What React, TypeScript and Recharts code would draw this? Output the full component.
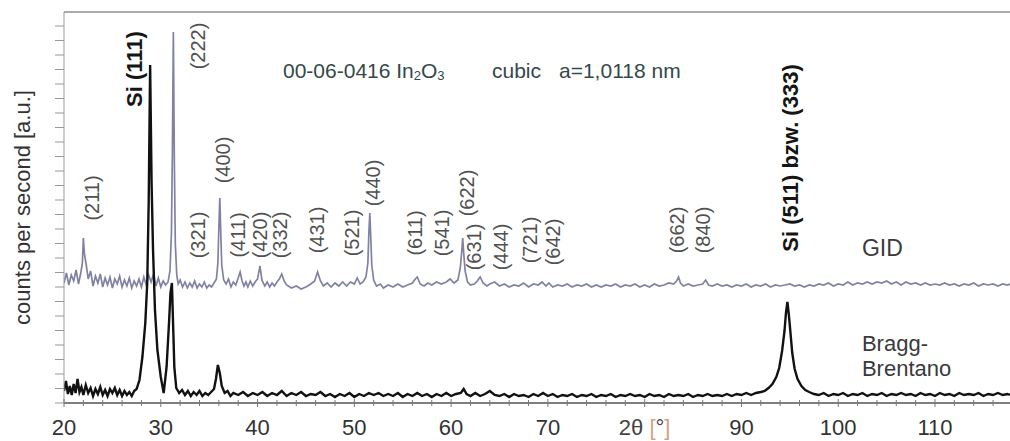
import { LineChart, Line, XAxis, YAxis, ReferenceDot, ReferenceLine } from 'recharts';

// GID scan (grazing incidence), offset upward: [2theta, counts]
const gidTrace: [number, number][] = [
  [20.0, 120], [20.25, 130], [20.5, 118], [20.75, 128], [21.0, 122], [21.25, 133], [21.5, 119], [21.75, 131],
  [21.9, 140], [22.0, 165], [22.1, 150], [22.3, 138], [22.5, 124], [22.75, 132], [23.0, 117], [23.25, 127],
  [23.5, 120], [23.75, 129], [24.0, 116], [24.25, 125], [24.5, 118], [24.75, 126], [25.0, 115], [25.25, 124],
  [25.5, 119], [25.75, 127], [26.0, 116], [26.25, 123], [26.5, 117], [26.75, 125], [27.0, 115], [27.25, 122],
  [27.5, 117], [27.75, 124], [28.0, 116], [28.25, 126], [28.5, 118], [28.75, 128], [29.0, 121], [29.25, 129],
  [29.5, 117], [29.75, 125], [30.0, 116], [30.25, 122], [30.5, 118], [30.75, 121], [30.95, 132], [31.1, 170],
  [31.2, 250], [31.3, 371], [31.4, 245], [31.5, 160], [31.65, 128], [31.8, 119], [32.0, 123], [32.25, 116],
  [32.5, 121], [32.75, 115], [33.0, 120], [33.25, 116], [33.5, 122], [33.75, 115], [34.0, 119], [34.25, 116],
  [34.5, 121], [34.75, 115], [35.0, 118], [35.25, 116], [35.5, 120], [35.75, 124], [35.9, 140], [36.0, 175],
  [36.1, 205], [36.2, 170], [36.3, 138], [36.5, 123], [36.75, 119], [37.0, 124], [37.25, 116], [37.5, 121],
  [37.75, 118], [38.0, 125], [38.2, 131], [38.4, 122], [38.6, 117], [38.8, 121], [39.0, 116], [39.25, 122],
  [39.5, 117], [39.75, 121], [40.0, 124], [40.25, 137], [40.45, 123], [40.75, 117], [41.0, 121], [41.25, 116],
  [41.5, 120], [41.75, 117], [42.0, 121], [42.25, 124], [42.5, 129], [42.75, 122], [43.0, 118], [43.5, 115],
  [44.0, 117], [44.5, 114], [45.0, 116], [45.5, 119], [45.9, 122], [46.2, 131], [46.5, 122], [46.8, 117],
  [47.2, 120], [47.6, 116], [48.0, 120], [48.4, 117], [48.8, 121], [49.2, 117], [49.6, 121], [50.0, 119],
  [50.3, 125], [50.6, 119], [50.9, 121], [51.2, 126], [51.4, 140], [51.5, 170], [51.6, 190], [51.7, 165],
  [51.8, 138], [52.0, 123], [52.3, 117], [52.7, 119], [53.0, 115], [53.5, 118], [54.0, 116], [54.5, 119],
  [55.0, 116], [55.5, 118], [56.0, 120], [56.3, 124], [56.5, 126], [56.8, 119], [57.2, 117], [57.6, 120],
  [58.0, 118], [58.5, 121], [59.0, 119], [59.5, 121], [59.9, 124], [60.3, 120], [60.7, 123], [60.95, 135],
  [61.1, 152], [61.2, 165], [61.3, 150], [61.45, 132], [61.7, 121], [62.0, 118], [62.4, 119], [62.7, 122],
  [63.0, 126], [63.3, 120], [63.7, 117], [64.0, 119], [64.5, 121], [65.0, 117], [65.5, 119], [66.0, 116],
  [66.5, 118], [67.0, 117], [67.5, 120], [68.0, 116], [68.5, 119], [69.0, 118], [69.4, 121], [69.8, 117],
  [70.1, 120], [70.5, 116], [71.0, 118], [71.5, 117], [72.0, 119], [72.5, 116], [73.0, 118], [73.5, 117],
  [74.0, 119], [74.5, 116], [75.0, 118], [75.5, 116], [76.0, 118], [76.5, 117], [77.0, 119], [77.5, 116],
  [78.0, 118], [78.5, 117], [79.0, 119], [79.5, 116], [80.0, 118], [80.5, 116], [81.0, 119], [81.5, 117],
  [82.0, 118], [82.5, 120], [83.0, 119], [83.3, 122], [83.5, 126], [83.7, 120], [84.0, 117], [84.5, 119],
  [85.0, 117], [85.5, 118], [86.0, 119], [86.3, 123], [86.6, 118], [87.0, 117], [87.5, 119], [88.0, 117],
  [88.5, 118], [89.0, 116], [89.5, 118], [90.0, 117], [90.5, 119], [91.0, 116], [91.5, 118], [92.0, 117],
  [92.5, 119], [93.0, 116], [93.5, 118], [94.0, 117], [94.5, 118], [95.0, 119], [95.5, 117], [96.0, 118],
  [96.5, 116], [97.0, 118], [97.5, 117], [98.0, 119], [98.5, 118], [99.0, 120], [99.5, 117], [100.0, 119],
  [100.5, 118], [101.0, 121], [101.5, 118], [102.0, 120], [102.5, 119], [103.0, 121], [103.5, 119], [104.0, 121],
  [104.5, 120], [105.0, 122], [105.5, 119], [106.0, 121], [106.5, 118], [107.0, 121], [107.5, 119], [108.0, 120],
  [108.5, 118], [109.0, 120], [109.5, 118], [110.0, 119], [110.5, 118], [111.0, 120], [111.5, 118], [112.0, 119],
  [112.5, 117], [113.0, 119], [113.5, 118], [114.0, 120], [114.5, 117], [115.0, 119], [115.5, 118], [116.0, 119],
  [116.5, 117], [117.0, 119], [117.5, 118], [117.75, 119],
];

// Bragg-Brentano scan: [2theta, counts]
const braggTrace: [number, number][] = [
  [20.0, 12], [20.2, 22], [20.4, 9], [20.6, 17], [20.8, 8], [21.0, 19], [21.2, 10], [21.4, 24], [21.6, 11],
  [21.8, 16], [22.0, 8], [22.25, 18], [22.5, 10], [22.75, 15], [23.0, 7], [23.25, 14], [23.5, 9], [23.75, 16],
  [24.0, 8], [24.25, 13], [24.5, 7], [24.75, 14], [25.0, 10], [25.25, 15], [25.5, 8], [25.75, 13], [26.0, 7],
  [26.25, 12], [26.5, 8], [26.75, 11], [27.0, 7], [27.25, 12], [27.5, 14], [27.8, 23], [28.1, 46], [28.4, 80],
  [28.6, 120], [28.75, 200], [28.9, 338], [29.05, 220], [29.2, 153], [29.4, 93], [29.65, 53], [30.0, 26],
  [30.3, 10], [30.6, 36], [30.85, 80], [31.0, 110], [31.15, 120], [31.3, 70], [31.4, 36], [31.6, 15],
  [31.9, 10], [32.2, 13], [32.5, 8], [32.8, 12], [33.1, 7], [33.4, 11], [33.7, 8], [34.0, 12], [34.3, 7],
  [34.6, 10], [34.9, 8], [35.2, 11], [35.5, 14], [35.7, 24], [35.9, 38], [36.1, 30], [36.3, 17], [36.6, 10],
  [36.9, 12], [37.2, 7], [37.5, 10], [38.0, 8], [38.5, 11], [39.0, 7], [39.5, 10], [40.0, 8], [40.5, 11],
  [41.0, 7], [41.5, 10], [42.0, 8], [42.5, 12], [43.0, 7], [43.5, 10], [44.0, 8], [44.5, 11], [45.0, 7],
  [45.5, 9], [46.0, 8], [46.5, 11], [47.0, 7], [47.5, 9], [48.0, 6], [48.5, 9], [49.0, 7], [49.5, 10],
  [50.0, 6], [50.5, 9], [51.0, 7], [51.5, 10], [52.0, 8], [52.5, 10], [53.0, 7], [53.5, 9], [54.0, 7],
  [54.5, 10], [55.0, 6], [55.5, 9], [56.0, 7], [56.5, 10], [57.0, 7], [57.5, 9], [58.0, 6], [58.5, 9],
  [59.0, 7], [59.5, 10], [60.0, 7], [60.5, 9], [61.0, 10], [61.3, 14], [61.6, 9], [62.0, 7], [62.5, 10],
  [63.0, 7], [63.5, 9], [64.0, 12], [64.5, 8], [65.0, 7], [65.5, 9], [66.0, 6], [66.5, 9], [67.0, 7],
  [67.5, 8], [68.0, 6], [68.5, 9], [69.0, 7], [69.5, 10], [70.0, 7], [70.5, 9], [71.0, 6], [71.5, 8],
  [72.0, 7], [72.5, 9], [73.0, 6], [73.5, 8], [74.0, 7], [74.5, 9], [75.0, 6], [75.5, 8], [76.0, 7],
  [76.5, 9], [77.0, 6], [77.5, 8], [78.0, 7], [78.5, 9], [79.0, 7], [79.5, 8], [80.0, 6], [80.5, 9],
  [81.0, 7], [81.5, 8], [82.0, 6], [82.5, 9], [83.0, 7], [83.5, 8], [84.0, 7], [84.5, 9], [85.0, 6],
  [85.5, 8], [86.0, 7], [86.5, 9], [87.0, 7], [87.5, 8], [88.0, 7], [88.5, 9], [89.0, 7], [89.5, 9],
  [90.0, 8], [90.5, 10], [91.0, 8], [91.5, 10], [92.0, 11], [92.4, 12], [92.8, 15], [93.2, 19], [93.6, 26],
  [93.9, 35], [94.2, 52], [94.45, 72], [94.6, 90], [94.75, 101], [94.9, 88], [95.05, 72], [95.25, 50],
  [95.5, 34], [95.8, 24], [96.2, 17], [96.6, 13], [97.0, 11], [97.5, 9], [98.0, 8], [98.5, 10], [99.0, 7],
  [99.5, 9], [100.0, 8], [100.5, 10], [101.0, 7], [101.5, 9], [102.0, 8], [102.5, 10], [103.0, 7], [103.5, 9],
  [104.0, 8], [104.5, 10], [105.0, 7], [105.5, 9], [106.0, 8], [106.5, 10], [107.0, 8], [107.5, 9],
  [108.0, 7], [108.5, 10], [109.0, 8], [109.5, 9], [110.0, 7], [110.5, 10], [111.0, 8], [111.5, 9],
  [112.0, 7], [112.5, 10], [113.0, 8], [113.5, 9], [114.0, 8], [114.5, 10], [115.0, 7], [115.5, 9],
  [116.0, 8], [116.5, 10], [117.0, 8], [117.5, 9], [117.75, 8],
];

// reflex labels: text, 2theta, height of label centre
const peakLabels: { text: string; angle: number; level: number; bold?: boolean }[] = [
  { text: '(211)', angle: 22.9, level: 205 },
  { text: 'Si (111)', angle: 27.3, level: 334, bold: true },
  { text: '(222)', angle: 33.85, level: 357 },
  { text: '(321)', angle: 33.85, level: 168 },
  { text: '(400)', angle: 36.43, level: 243 },
  { text: '(411)', angle: 37.98, level: 168 },
  { text: '(420)', angle: 40.25, level: 168 },
  { text: '(332)', angle: 42.32, level: 168 },
  { text: '(431)', angle: 46.14, level: 173 },
  { text: '(521)', angle: 49.76, level: 170 },
  { text: '(440)', angle: 51.93, level: 220 },
  { text: '(611)', angle: 56.27, level: 170 },
  { text: '(541)', angle: 59.06, level: 170 },
  { text: '(622)', angle: 61.64, level: 210 },
  { text: '(631)', angle: 62.36, level: 156 },
  { text: '(444)', angle: 65.15, level: 156 },
  { text: '(721)', angle: 68.15, level: 163 },
  { text: '(642)', angle: 70.53, level: 161 },
  { text: '(662)', angle: 83.34, level: 173 },
  { text: '(840)', angle: 86.03, level: 173 },
  { text: 'Si (511) bzw. (333)', angle: 95.02, level: 245, bold: true },
];

const xTicks = [20, 22, 24, 26, 28, 30, 32, 34, 36, 38, 40, 42, 44, 46, 48, 50, 52, 54, 56, 58, 60, 62, 64, 66,
  68, 70, 72, 74, 76, 78, 80, 82, 84, 86, 88, 90, 92, 94, 96, 98, 100, 102, 104, 106, 108, 110, 112, 114, 116];
const yTicks = Array.from({ length: 27 }, (_, i) => i * 14.5);

const gidData = gidTrace.map(([x, y]) => ({ x, y }));
const braggData = braggTrace.map(([x, y]) => ({ x, y }));

const FONT = '"Liberation Sans", Arial, sans-serif';

// eslint-disable-next-line @typescript-eslint/no-explicit-any
const XTick = ({ x, y, payload }: any) => {
  const v = payload.value;
  const major = v % 10 === 0;
  return (
    <g>
      <line x1={x} x2={x} y1={y - (major ? 4 : 3)} y2={y + (major ? 4 : 3)} stroke="#777" strokeWidth={1} />
      {major && v !== 80 && (
        <text x={x} y={y + 32} textAnchor="middle" fontSize={22} fill="#333" fontFamily={FONT}>{v}</text>
      )}
      {v === 80 && (
        <text x={x} y={y + 32} textAnchor="middle" fontSize={22} fill="#444" fontFamily={FONT}>
          2θ <tspan fill="#d3a37c">[</tspan>°<tspan fill="#d3a37c">]</tspan>
        </text>
      )}
    </g>
  );
};

// eslint-disable-next-line @typescript-eslint/no-explicit-any
const centre = (props: any) => {
  const vb = props.viewBox || {};
  return { cx: vb.x + vb.width / 2, cy: vb.y + vb.height / 2 };
};

const rotatedLabel = (text: string, bold?: boolean) =>
  // eslint-disable-next-line @typescript-eslint/no-explicit-any
  (props: any) => {
    const { cx, cy } = centre(props);
    return (
      <text
        x={cx}
        y={cy}
        transform={`rotate(-90 ${cx} ${cy})`}
        textAnchor="middle"
        dominantBaseline="central"
        fontSize={bold ? 22 : 20}
        fontWeight={bold ? 700 : 400}
        fill={bold ? '#151515' : '#505050'}
        fontFamily={FONT}
      >
        {text}
      </text>
    );
  };

// eslint-disable-next-line @typescript-eslint/no-explicit-any
const titleLabel = (props: any) => {
  const { cx, cy } = centre(props);
  return (
    <text x={cx} y={cy} dominantBaseline="central" fontSize={21} fill="#34484a" fontFamily={FONT}>
      <tspan>00-06-0416 In</tspan>
      <tspan dy={5} fontSize={13}>2</tspan>
      <tspan dy={-5}>O</tspan>
      <tspan dy={5} fontSize={13}>3</tspan>
      <tspan dy={-5} x={cx + 209}>cubic</tspan>
      <tspan x={cx + 276}>a=1,0118 nm</tspan>
    </text>
  );
};

const plainLabel = (text: string, size: number) =>
  // eslint-disable-next-line @typescript-eslint/no-explicit-any
  (props: any) => {
    const { cx, cy } = centre(props);
    return (
      <text x={cx} y={cy} dominantBaseline="central" fontSize={size} fill="#3a3a3a" fontFamily={FONT}>
        {text}
      </text>
    );
  };

// eslint-disable-next-line @typescript-eslint/no-explicit-any
const yLabel = (props: any) => {
  const vb = props.viewBox || {};
  const cx = vb.x + 7;
  const cy = vb.y + vb.height / 2;
  return (
    <text
      x={cx}
      y={cy}
      transform={`rotate(-90 ${cx} ${cy})`}
      textAnchor="middle"
      dominantBaseline="central"
      fontSize={22}
      fill="#333"
      fontFamily={FONT}
    >
      counts per second [a.u.]
    </text>
  );
};

export default function App() {
  return (
    <div style={{ position: 'absolute', left: 0, top: 0, width: 1010, height: 441, background: '#fff' }}>
      <LineChart width={1010} height={441} margin={{ top: 12, right: 0, left: 15, bottom: 0 }}>
        <XAxis
          type="number"
          dataKey="x"
          domain={[20, 117.75]}
          ticks={xTicks}
          allowDataOverflow
          height={38}
          tickSize={0}
          tickMargin={0}
          tickLine={false}
          tick={<XTick />}
          stroke="#555"
          strokeWidth={1.5}
          interval={0}
        />
        <YAxis
          type="number"
          domain={[0, 391]}
          ticks={yTicks}
          allowDataOverflow
          width={49}
          tickSize={9}
          tickFormatter={() => ''}
          stroke="#999"
          interval={0}
          label={{ content: yLabel }}
        />
        <ReferenceLine y={391} stroke="#aaa" strokeWidth={2} />
        <Line
          data={gidData}
          dataKey="y"
          type="linear"
          stroke="#8082a4"
          strokeWidth={1.7}
          dot={false}
          isAnimationActive={false}
        />
        <Line
          data={braggData}
          dataKey="y"
          type="linear"
          stroke="#111"
          strokeWidth={2.4}
          dot={false}
          isAnimationActive={false}
        />
        {peakLabels.map((p) => (
          <ReferenceDot
            key={p.text + p.angle}
            x={p.angle}
            y={p.level}
            r={1}
            fill="none"
            stroke="none"
            label={rotatedLabel(p.text, p.bold)}
          />
        ))}
        <ReferenceDot x={42.63} y={333} r={1} fill="none" stroke="none" label={titleLabel} />
        <ReferenceDot x={102.45} y={155} r={1} fill="none" stroke="none" label={plainLabel('GID', 23)} />
        <ReferenceDot x={102.45} y={60} r={1} fill="none" stroke="none" label={plainLabel('Bragg-', 22)} />
        <ReferenceDot x={102.45} y={35} r={1} fill="none" stroke="none" label={plainLabel('Brentano', 22)} />
      </LineChart>
    </div>
  );
}
